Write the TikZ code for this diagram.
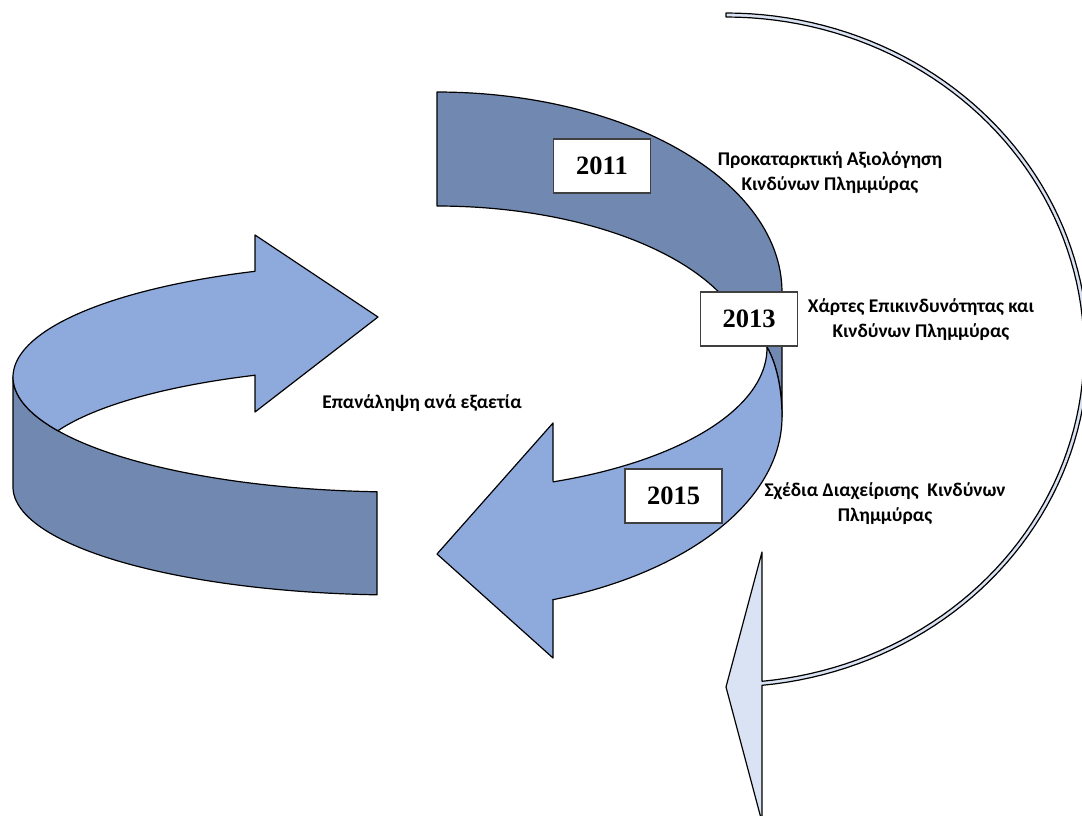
\documentclass[tikz,border=0pt]{standalone}
\usepackage{fontspec}
\setmainfont{Carlito}
\newfontfamily\yearfamily{Liberation Serif}
\definecolor{darkb}{RGB}{113,137,177}
\definecolor{lightb}{RGB}{142,169,219}
\definecolor{paleb}{RGB}{218,227,243}
\definecolor{boxline}{RGB}{64,64,64}
\tikzset{
  shapeline/.style={draw=black, line width=1.2pt, line join=round},
  yearbox/.style={draw=boxline, line width=1.3pt, fill=white, minimum width=97pt, minimum height=54pt, inner sep=0pt, font=\yearfamily\bfseries\fontsize{26.5}{30}\selectfont},
  label/.style={align=center, inner sep=0pt, font=\bfseries\fontsize{19.4}{25.5}\selectfont}
}
\begin{document}
\begin{tikzpicture}[x=1pt,y=-1pt]
\useasboundingbox (0,0) rectangle (1082,816);
\clip (0,0) rectangle (1082,816);
% right thin curved arrow
\path[shapeline, fill=paleb] (726,13) -- plot[domain=-90:84.29, samples=90] ({726+362*cos(\x)},{350+337*sin(\x)})
  -- (762,822) -- (726,687) -- (762,552) -- (762,681.3)
  -- plot[domain=84.23:-90, samples=90] ({726+358*cos(\x)},{350+333*sin(\x)}) -- cycle;
% left arrow: dark side
\path[shapeline, fill=darkb] (13,377) -- (13,487)
  -- plot[domain=180:93.4, samples=60] ({400+387*cos(\x)},{487+108*sin(\x)})
  -- (377,492)
  -- plot[domain=93.4:180, samples=60] ({400+387*cos(\x)},{377+115*sin(\x)}) -- cycle;
% left arrow: light face
\path[shapeline, fill=lightb] (13,377)
  -- plot[domain=-180:-112, samples=60] ({400+387*cos(\x)},{377+114*sin(\x)})
  -- (255,235) -- (378,317) -- (255,412) -- (255,375)
  -- plot[domain=-113.1:-157.6, samples=50] ({400+370*cos(\x)},{470+103*sin(\x)})
  -- plot[domain=152.1:180, samples=20] ({400+387*cos(\x)},{377+115*sin(\x)}) -- cycle;
% S arrow: dark upper part
\path[shapeline, fill=darkb] (437,92)
  -- plot[domain=-90:0, samples=60] ({437+345*cos(\x)},{292+200*sin(\x)})
  -- (782,417) .. controls (782,390) and (777,365) .. (767,347) -- (726,300)
  -- plot[domain=-23:-90, samples=60] ({437+314*cos(\x)},{360+154*sin(\x)}) -- cycle;
% S arrow: light lower part
\path[shapeline, fill=lightb] (767,347)
  -- plot[domain=0:69.4, samples=60] ({437+330*cos(\x)},{348+143*sin(\x)})
  -- (553,423) -- (437,554) -- (553,658) -- (553,600)
  -- plot[domain=70.4:0, samples=60] ({437+345*cos(\x)},{417+194*sin(\x)})
  .. controls (782,390) and (777,365) .. (767,347) -- cycle;
% year boxes
\node[yearbox] (y2011) at (602,166) {2011};
\node[yearbox] (y2013) at (749,319) {2013};
\node[yearbox] (y2015) at (673.5,496) {2015};
% labels
\node[label] (l2011) at (830,172.5) {Προκαταρκτική Αξιολόγηση\\Κινδύνων Πλημμύρας};
\node[label] (l2013) at (921,319.5) {Χάρτες Επικινδυνότητας και\\Κινδύνων Πλημμύρας};
\node[label] (l2015) at (885,503.5) {Σχέδια Διαχείρισης\ \ Κινδύνων\\Πλημμύρας};
\node[label] (lrep) at (422,403) {Επανάληψη ανά εξαετία};
\end{tikzpicture}
\end{document}
